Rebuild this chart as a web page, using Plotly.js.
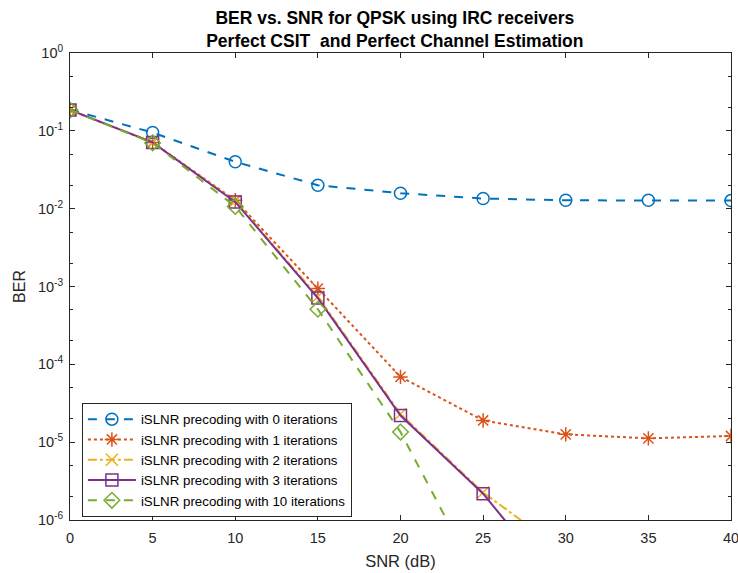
<!DOCTYPE html>
<html>
<head>
<meta charset="utf-8">
<script src="https://cdn.plot.ly/plotly-3.0.1.min.js"></script>
<style>html,body{margin:0;padding:0;background:#fff;}#chart{width:738px;height:573px;}</style>
</head>
<body>
<div id="chart"></div>
<script>
const snr = [0, 5, 10, 15, 20, 25, 30, 35, 40];
const ber0 = [0.187, 0.095, 0.040, 0.020, 0.0158, 0.0135, 0.0128, 0.0128, 0.0127];
const ber1 = [0.185, 0.071, 0.0128, 9.4e-4, 6.9e-5, 1.9e-5, 1.26e-5, 1.12e-5, 1.2e-5];
const ber2 = [0.185, 0.071, 0.0125, 7.4e-4, 2.3e-5, 2.25e-6, 3.8e-7, null, null];
const ber3 = [0.185, 0.071, 0.0122, 7.1e-4, 2.2e-5, 2.18e-6, 1.1e-7, null, null];
const ber10 = [0.185, 0.070, 0.0107, 5.1e-4, 1.35e-5, 1.3e-7, null, null, null];
const names = [
  'iSLNR precoding with 0 iterations',
  'iSLNR precoding with 1 iterations',
  'iSLNR precoding with 2 iterations',
  'iSLNR precoding with 3 iterations',
  'iSLNR precoding with 10 iterations'
];
const yTickVals = [1e-6, 1e-5, 1e-4, 1e-3, 1e-2, 1e-1, 1];
const yTickText = ['10<sup>-6</sup>', '10<sup>-5</sup>', '10<sup>-4</sup>', '10<sup>-3</sup>', '10<sup>-2</sup>', '10<sup>-1</sup>', '10<sup>0</sup>'];
const xTickVals = [0, 5, 10, 15, 20, 25, 30, 35, 40];

const colors = ['#0072BD', '#D95319', '#EDB120', '#7E2F8E', '#77AC30'];
const dashes = ['dash', 'dot', 'dashdot', 'solid', 'dash'];
const symbols = ['circle-open', 'asterisk-open', 'x-thin-open', 'square-open', 'diamond-open'];
const series = [ber0, ber1, ber2, ber3, ber10];

const traces = series.map((ys, i) => ({
  x: snr, y: ys, name: names[i], type: 'scatter', mode: 'lines+markers',
  line: {color: colors[i], dash: dashes[i], width: 2},
  marker: {symbol: symbols[i], size: 12, color: colors[i], line: {color: colors[i], width: 1.5}},
  connectgaps: false, cliponaxis: true
}));

const FONT = 'Liberation Sans, Arial, sans-serif';

const layout = {
  width: 738, height: 573,
  margin: {l: 70, r: 7, t: 53, b: 53},
  paper_bgcolor: '#fff', plot_bgcolor: '#fff',
  font: {family: FONT, color: '#262626'},
  title: {
    text: '<b>BER vs. SNR for QPSK using IRC receivers</b><br><b>Perfect CSIT  and Perfect Channel Estimation</b>',
    font: {family: FONT, size: 17.5, color: '#000'}, x: 0.535, xanchor: 'center',
    yref: 'container', y: 1 - 24 / 573, yanchor: 'middle'
  },
  xaxis: {
    showline: true, linecolor: '#262626', linewidth: 1, mirror: 'ticks',
    ticks: 'inside', ticklen: 5, tickcolor: '#262626', showgrid: false, zeroline: false,
    ticklabeloverflow: 'allow', ticklabelstandoff: 5,
    tickfont: {family: FONT, size: 14.5, color: '#262626'},
    range: [0, 40], tickvals: xTickVals,
    title: {text: 'SNR (dB)', font: {family: FONT, size: 16.5, color: '#262626'}, standoff: 10}
  },
  yaxis: {
    showline: true, linecolor: '#262626', linewidth: 1, mirror: 'ticks',
    ticks: 'inside', ticklen: 5, tickcolor: '#262626', showgrid: false, zeroline: false,
    ticklabeloverflow: 'allow', ticklabelstandoff: 3,
    tickfont: {family: FONT, size: 14.5, color: '#262626'},
    type: 'log', range: [-6, 0], tickvals: yTickVals, ticktext: yTickText,
    minor: {ticks: 'inside', ticklen: 3, tickcolor: '#262626', showgrid: false},
    title: {text: 'BER', font: {family: FONT, size: 16, color: '#262626'}, standoff: 8}
  },
  showlegend: true,
  legend: {
    x: 0.018, y: 0.2505, xanchor: 'left', yanchor: 'top',
    bgcolor: '#fff', bordercolor: '#262626', borderwidth: 1,
    font: {family: FONT, size: 13.3, color: '#000'}, tracegroupgap: 0, itemwidth: 48
  }
};

Plotly.newPlot('chart', traces, layout, {displayModeBar: false, staticPlot: true});
</script>
</body>
</html>
